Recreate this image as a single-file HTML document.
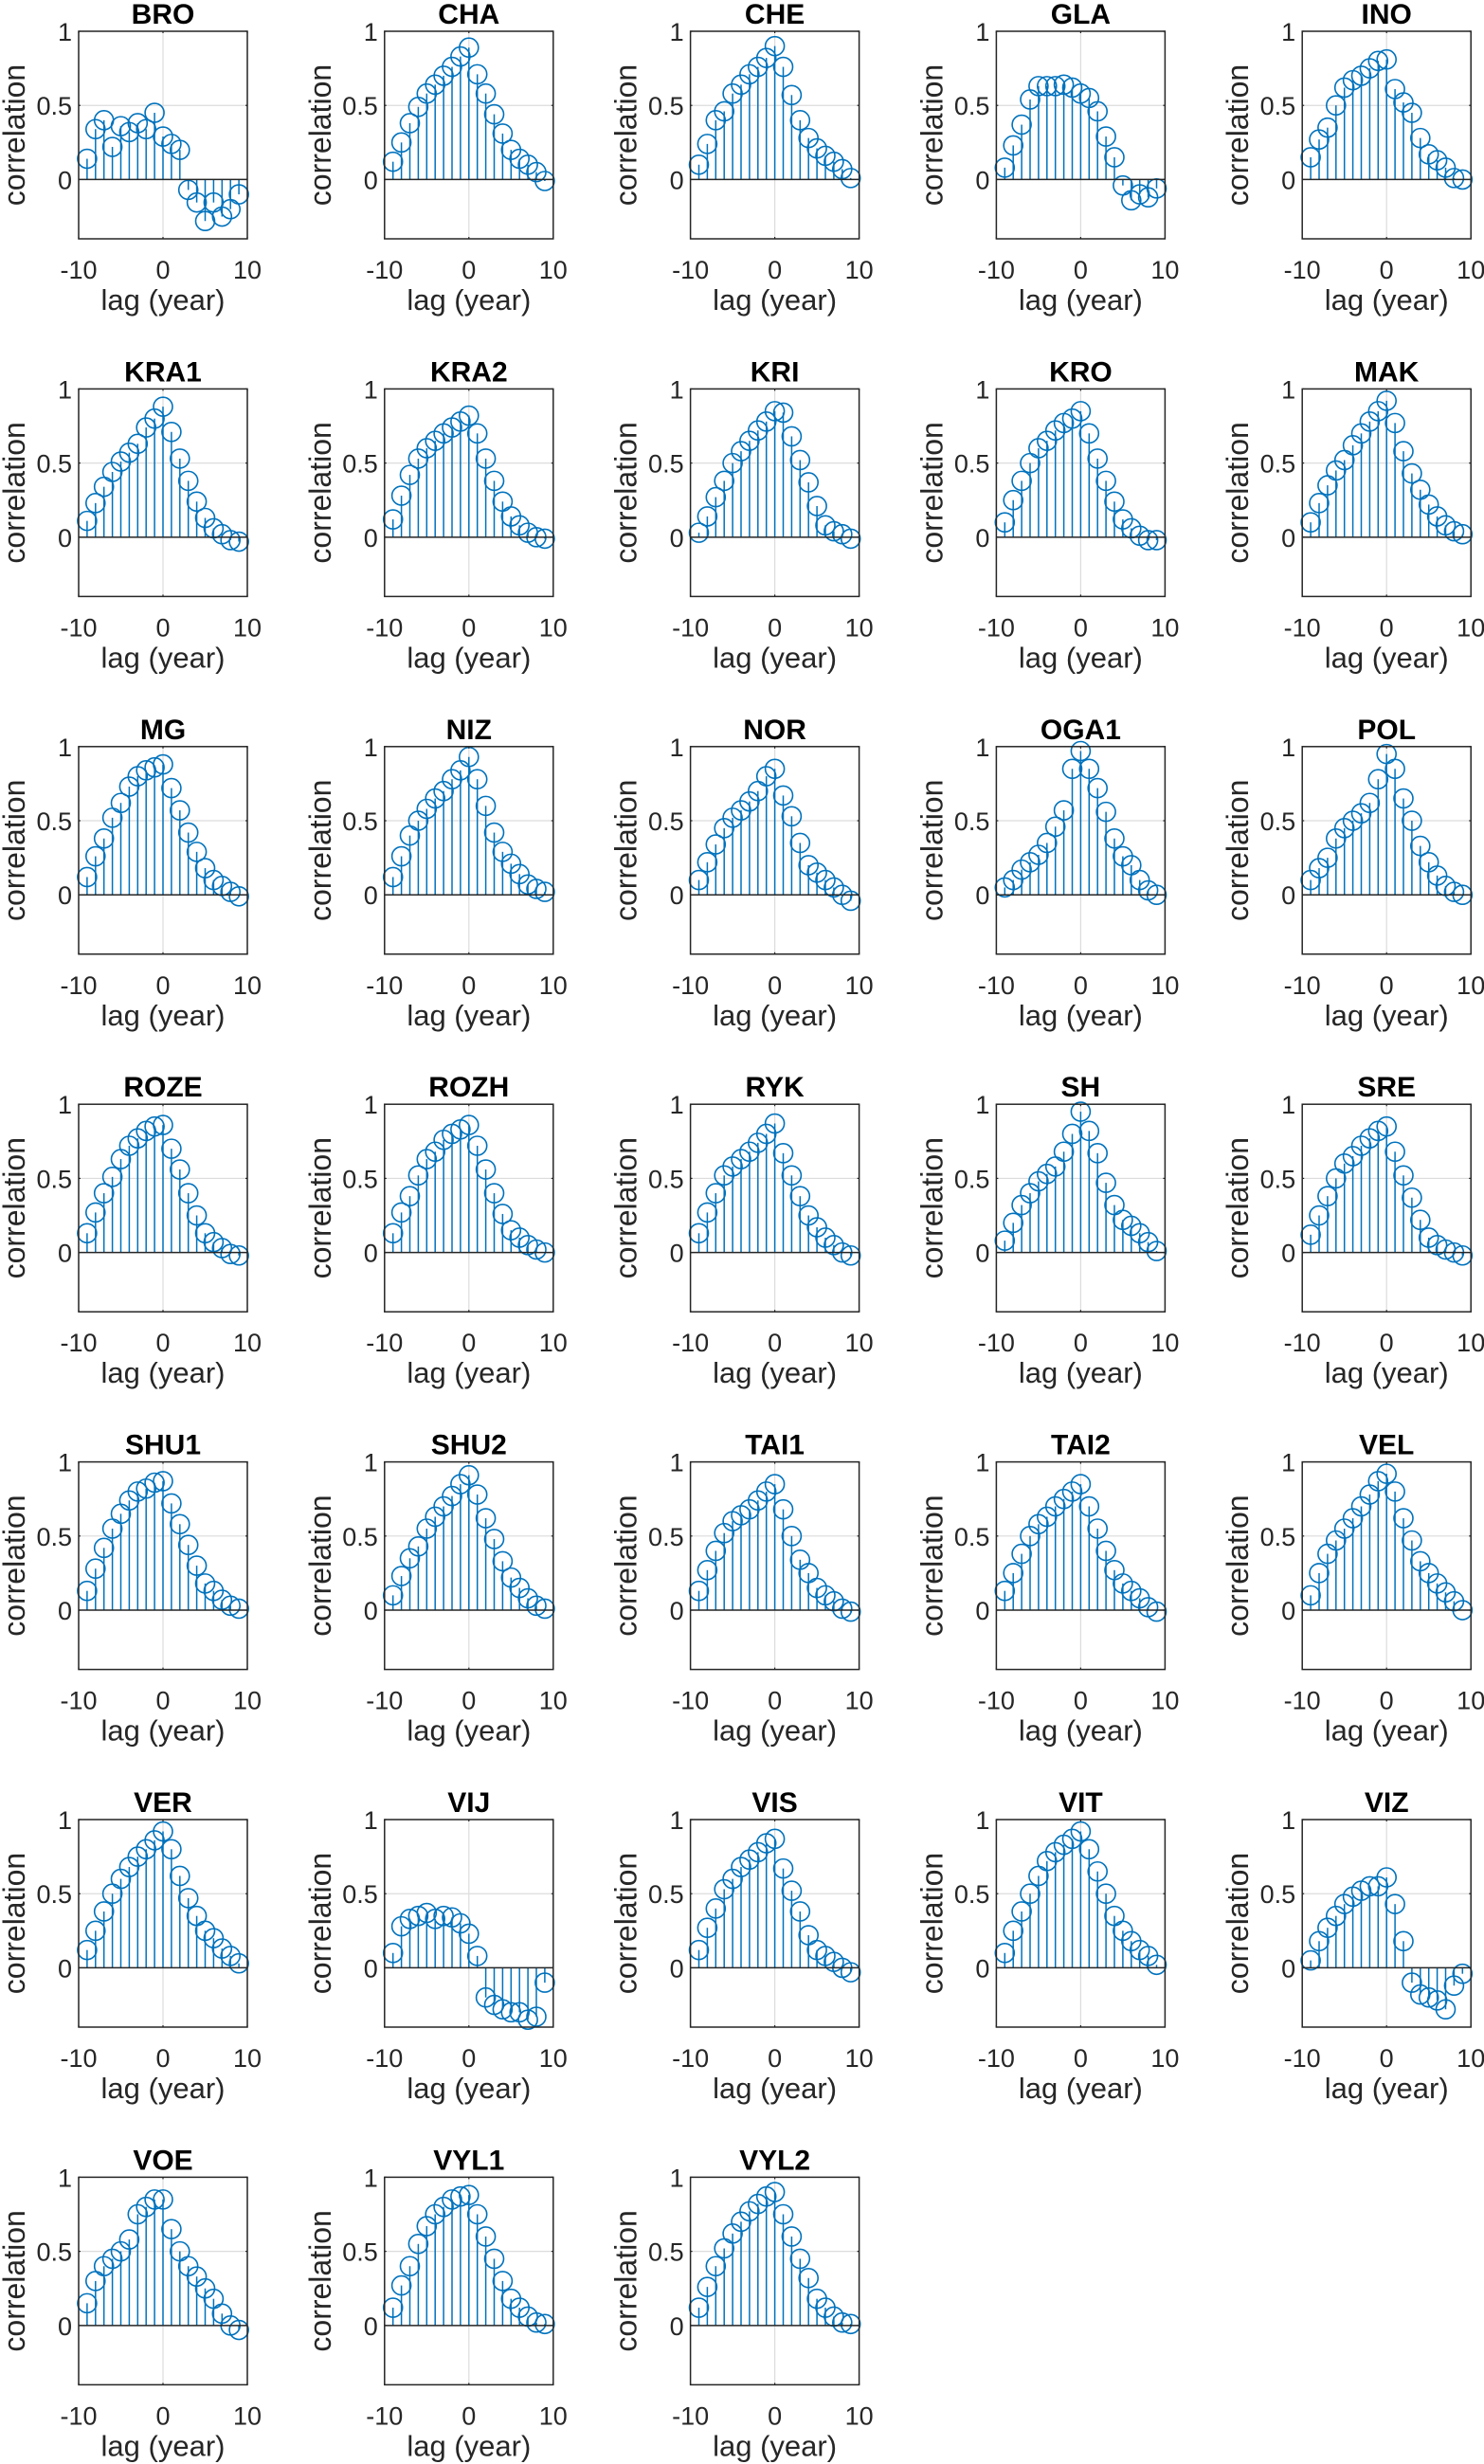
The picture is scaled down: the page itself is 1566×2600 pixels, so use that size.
<!DOCTYPE html>
<html><head><meta charset="utf-8"><title>Cross-correlation by site</title>
<style>
html,body{margin:0;padding:0;background:#fff;}
svg{display:block;}
text{font-family:"Liberation Sans",Arial,sans-serif;fill:#262626;}
</style></head>
<body>
<svg id="fig" width="1566" height="2600" viewBox="0 0 1566 2600" xmlns="http://www.w3.org/2000/svg"></svg>
<script>
const siteNames = ["BRO","CHA","CHE","GLA","INO","KRA1","KRA2","KRI","KRO","MAK","MG","NIZ","NOR","OGA1","POL","ROZE","ROZH","RYK","SH","SRE","SHU1","SHU2","TAI1","TAI2","VEL","VER","VIJ","VIS","VIT","VIZ","VOE","VYL1","VYL2"];
const lags = [-9,-8,-7,-6,-5,-4,-3,-2,-1,0,1,2,3,4,5,6,7,8,9];
const xTicks = [-10,0,10];
const xTickLabels = ["-10","0","10"];
const yTicks = [0,0.5,1];
const yTickLabels = ["0","0.5","1"];
const BRO  = [0.14,0.34,0.40,0.22,0.36,0.32,0.38,0.34,0.45,0.29,0.24,0.20,-0.07,-0.155,-0.28,-0.155,-0.25,-0.20,-0.10];
const CHA  = [0.12,0.25,0.38,0.49,0.58,0.64,0.70,0.76,0.83,0.89,0.71,0.58,0.44,0.31,0.20,0.14,0.10,0.05,-0.01];
const CHE  = [0.10,0.24,0.40,0.46,0.58,0.64,0.71,0.76,0.82,0.90,0.76,0.57,0.40,0.28,0.21,0.16,0.12,0.07,0.01];
const GLA  = [0.08,0.23,0.37,0.54,0.63,0.63,0.63,0.64,0.62,0.58,0.55,0.46,0.29,0.15,-0.04,-0.14,-0.10,-0.12,-0.06];
const INO  = [0.15,0.27,0.35,0.50,0.62,0.67,0.70,0.75,0.80,0.81,0.61,0.52,0.45,0.28,0.17,0.13,0.08,0.01,0.00];
const KRA1 = [0.11,0.23,0.34,0.44,0.51,0.57,0.63,0.74,0.80,0.88,0.71,0.53,0.38,0.24,0.13,0.06,0.02,-0.02,-0.03];
const KRA2 = [0.12,0.28,0.42,0.53,0.60,0.65,0.70,0.74,0.78,0.82,0.70,0.53,0.38,0.24,0.14,0.08,0.03,0.00,-0.01];
const KRI  = [0.03,0.14,0.27,0.38,0.50,0.58,0.65,0.72,0.78,0.85,0.84,0.68,0.52,0.37,0.21,0.08,0.04,0.02,-0.01];
const KRO  = [0.10,0.25,0.38,0.50,0.60,0.65,0.72,0.77,0.80,0.85,0.70,0.53,0.38,0.24,0.12,0.06,0.01,-0.02,-0.02];
const MAK  = [0.10,0.23,0.35,0.45,0.52,0.62,0.70,0.78,0.85,0.92,0.77,0.58,0.43,0.32,0.22,0.14,0.08,0.04,0.02];
const MG   = [0.12,0.26,0.38,0.52,0.62,0.73,0.80,0.84,0.86,0.88,0.72,0.57,0.42,0.29,0.18,0.10,0.06,0.02,-0.01];
const NIZ  = [0.12,0.26,0.40,0.50,0.58,0.65,0.70,0.78,0.84,0.93,0.78,0.60,0.42,0.29,0.21,0.14,0.07,0.04,0.02];
const NOR  = [0.10,0.22,0.34,0.45,0.52,0.57,0.63,0.70,0.80,0.85,0.67,0.53,0.35,0.20,0.15,0.10,0.05,0.00,-0.04];
const OGA1 = [0.05,0.10,0.17,0.22,0.27,0.35,0.46,0.57,0.85,0.97,0.85,0.72,0.56,0.38,0.26,0.20,0.10,0.03,0.00];
const POL  = [0.10,0.18,0.25,0.38,0.45,0.50,0.55,0.62,0.78,0.95,0.85,0.65,0.50,0.33,0.22,0.13,0.06,0.02,0.00];
const ROZE = [0.13,0.27,0.40,0.51,0.63,0.72,0.77,0.82,0.85,0.86,0.70,0.56,0.40,0.25,0.13,0.07,0.03,-0.01,-0.02];
const ROZH = [0.13,0.27,0.38,0.52,0.63,0.68,0.76,0.80,0.83,0.86,0.72,0.56,0.40,0.26,0.15,0.10,0.05,0.02,0.00];
const RYK  = [0.13,0.27,0.40,0.52,0.58,0.63,0.68,0.74,0.80,0.87,0.67,0.52,0.38,0.25,0.17,0.10,0.05,0.00,-0.02];
const SH   = [0.08,0.20,0.32,0.40,0.48,0.53,0.58,0.68,0.80,0.95,0.82,0.67,0.47,0.32,0.22,0.18,0.13,0.07,0.01];
const SRE  = [0.12,0.25,0.38,0.50,0.60,0.65,0.72,0.77,0.82,0.85,0.68,0.52,0.37,0.22,0.10,0.05,0.02,0.00,-0.02];
const SHU1 = [0.13,0.28,0.42,0.55,0.65,0.74,0.80,0.82,0.86,0.87,0.72,0.58,0.44,0.30,0.18,0.13,0.07,0.03,0.01];
const SHU2 = [0.10,0.23,0.35,0.43,0.55,0.63,0.70,0.77,0.85,0.91,0.78,0.62,0.48,0.33,0.22,0.15,0.08,0.03,0.01];
const TAI1 = [0.13,0.27,0.40,0.52,0.60,0.64,0.68,0.74,0.80,0.85,0.68,0.50,0.34,0.25,0.15,0.10,0.06,0.01,-0.01];
const TAI2 = [0.13,0.25,0.38,0.50,0.58,0.63,0.70,0.75,0.80,0.85,0.70,0.55,0.40,0.27,0.18,0.13,0.08,0.02,-0.01];
const VEL  = [0.10,0.25,0.38,0.47,0.55,0.62,0.70,0.78,0.87,0.92,0.80,0.62,0.47,0.33,0.25,0.18,0.12,0.06,0.00];
const VER  = [0.12,0.25,0.38,0.50,0.60,0.68,0.75,0.80,0.86,0.92,0.80,0.62,0.47,0.35,0.25,0.20,0.13,0.08,0.03];
const VIJ  = [0.10,0.28,0.33,0.35,0.37,0.33,0.35,0.34,0.30,0.23,0.08,-0.20,-0.25,-0.28,-0.30,-0.30,-0.35,-0.33,-0.10];
const VIS  = [0.12,0.27,0.40,0.53,0.60,0.68,0.73,0.78,0.84,0.87,0.67,0.52,0.38,0.22,0.12,0.08,0.04,0.00,-0.03];
const VIT  = [0.10,0.25,0.38,0.50,0.62,0.72,0.78,0.83,0.87,0.92,0.80,0.65,0.50,0.35,0.25,0.18,0.12,0.08,0.02];
const VIZ  = [0.05,0.18,0.27,0.35,0.43,0.48,0.52,0.55,0.55,0.61,0.43,0.18,-0.10,-0.18,-0.20,-0.22,-0.28,-0.12,-0.04];
const VOE  = [0.15,0.30,0.40,0.45,0.50,0.58,0.75,0.80,0.85,0.85,0.65,0.50,0.40,0.33,0.25,0.18,0.08,0.00,-0.03];
const VYL1 = [0.12,0.27,0.40,0.55,0.67,0.75,0.80,0.85,0.87,0.88,0.75,0.60,0.45,0.30,0.18,0.12,0.06,0.02,0.01];
const VYL2 = [0.12,0.26,0.40,0.52,0.62,0.70,0.77,0.82,0.87,0.90,0.75,0.60,0.45,0.32,0.18,0.12,0.06,0.02,0.01];
const siteSeries = [BRO,CHA,CHE,GLA,INO,KRA1,KRA2,KRI,KRO,MAK,MG,NIZ,NOR,OGA1,POL,ROZE,ROZH,RYK,SH,SRE,SHU1,SHU2,TAI1,TAI2,VEL,VER,VIJ,VIS,VIT,VIZ,VOE,VYL1,VYL2];

const NS = "http://www.w3.org/2000/svg";
const svg = document.getElementById("fig");
const XMIN=-10, XMAX=10, YMIN=-0.4, YMAX=1;
const PW=178, PH=219, COL0=83, COLSTEP=322.8, ROW0=33, ROWSTEP=377.4;
const BLUE="#0072BD", AX="#262626";

function mk(tag, attrs, parent){
  const e=document.createElementNS(NS,tag);
  for(const k in attrs) e.setAttribute(k, attrs[k]);
  parent.appendChild(e);
  return e;
}

siteNames.forEach((name, i) => {
  const r=Math.floor(i/5), c=i%5;
  const L=COL0+c*COLSTEP, T=ROW0+r*ROWSTEP, R=L+PW, B=T+PH;
  const sx = v => L + (v-XMIN)/(XMAX-XMIN)*PW;
  const sy = v => B - (v-YMIN)/(YMAX-YMIN)*PH;
  const g=mk("g",{},svg);
  
  

  const grid=mk("g",{stroke:"#dcdcdc","stroke-width":"1.2"},g);
  
  
  xTicks.forEach(t=>{ mk("line",{x1:sx(t),x2:sx(t),y1:T,y2:B},grid); });
  yTicks.forEach(t=>{ mk("line",{x1:L,x2:R,y1:sy(t),y2:sy(t)},grid); });

  const vals=siteSeries[i];
  const marks=mk("g",{},g);
  
  
  lags.forEach((lag,k)=>{
    const st=mk("line",{x1:sx(lag),x2:sx(lag),y1:sy(0),y2:sy(vals[k]),stroke:BLUE,"stroke-width":"1.5"},marks);
    
    
  });
  lags.forEach((lag,k)=>{
    const ci=mk("circle",{cx:sx(lag),cy:sy(vals[k]),r:"10",fill:"none",stroke:BLUE,"stroke-width":"1.6"},marks);
    
    
  });

  const bl=mk("line",{x1:L,x2:R,y1:sy(0),y2:sy(0),stroke:AX,"stroke-width":"1.5"},g);
  
  

  const box=mk("rect",{x:L,y:T,width:PW,height:PH,fill:"none",stroke:AX,"stroke-width":"1.5"},g);
  
  

  yTicks.forEach(t=>{
    mk("line",{x1:L,x2:L+2,y1:sy(t),y2:sy(t),stroke:AX,"stroke-width":"1.2"},g);
    mk("line",{x1:R,x2:R-2,y1:sy(t),y2:sy(t),stroke:AX,"stroke-width":"1.2"},g);
  });
  xTicks.forEach(t=>{
    mk("line",{x1:sx(t),x2:sx(t),y1:B,y2:B-2,stroke:AX,"stroke-width":"1.2"},g);
    mk("line",{x1:sx(t),x2:sx(t),y1:T,y2:T+2,stroke:AX,"stroke-width":"1.2"},g);
  });

  yTicks.forEach((t,k)=>{
    const tx=mk("text",{x:L-7,y:sy(t)+10,"text-anchor":"end","font-size":"27"},g);
    tx.textContent=yTickLabels[k];
    
    
  });
  xTicks.forEach((t,k)=>{
    const tx=mk("text",{x:sx(t),y:B+42,"text-anchor":"middle","font-size":"27"},g);
    tx.textContent=xTickLabels[k];
    
    
  });

  const ti=mk("text",{x:(L+R)/2,y:T-8,"text-anchor":"middle","font-size":"30","font-weight":"bold",style:"fill:#000"},g);
  ti.textContent=name;
  
  

  const xl=mk("text",{x:(L+R)/2,y:B+75,"text-anchor":"middle","font-size":"31"},g);
  xl.textContent="lag (year)";
  
  
  const yc=(T+B)/2, yx=L-57;
  const yl=mk("text",{x:yx,y:yc,"text-anchor":"middle","font-size":"32",transform:"rotate(-90 "+yx+" "+yc+")"},g);
  yl.textContent="correlation";
  
  
});
</script>
</body></html>
